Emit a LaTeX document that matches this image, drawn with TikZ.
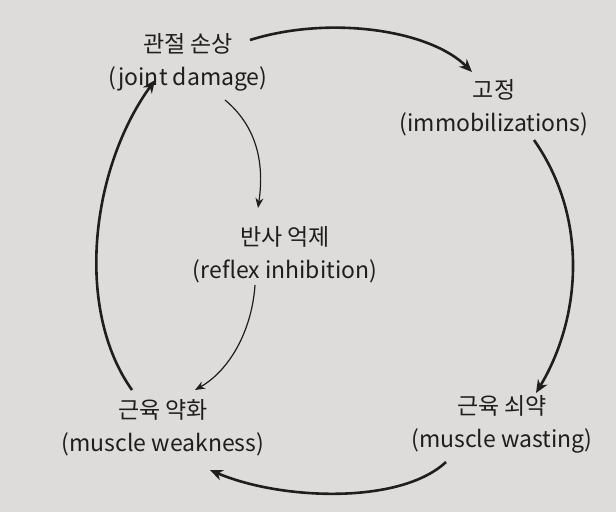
\documentclass[tikz,border=0pt]{standalone}
\usepackage{fontspec}
\setmainfont{Noto Sans CJK KR}
\usetikzlibrary{arrows.meta}
\definecolor{paper}{RGB}{222,220,218}
\definecolor{ink}{RGB}{30,30,30}
\begin{document}
\begin{tikzpicture}[x=1pt,y=-1pt,
  lab/.style={align=center,text=ink,font=\fontsize{23}{33}\selectfont},
  bigarr/.style={line width=2.6pt,draw=ink,-{Stealth[length=13pt,width=11pt]}},
  thinarr/.style={line width=1.2pt,draw=ink,-{Stealth[length=10pt,width=8pt]}}]
\fill[paper] (0,0) rectangle (616,512);
\useasboundingbox (0,0) rectangle (616,512);
\node[lab] (jd) at (188,62) {관절 손상\\(joint damage)};
\node[lab] (im) at (494,108) {고정\\(immobilizations)};
\node[lab] (rf) at (285,255) {반사 억제\\(reflex inhibition)};
\node[lab] (mw) at (163,428) {근육 약화\\(muscle weakness)};
\node[lab] (ms) at (502,424) {근육 쇠약\\(muscle wasting)};
\coordinate (a1) at (250,40); \coordinate (a2) at (472,72);
\draw[bigarr] (a1) .. controls (330,15) and (430,30) .. (a2);
\coordinate (b1) at (534,140); \coordinate (b2) at (536,393);
\draw[bigarr] (b1) .. controls (590,220) and (580,320) .. (b2);
\coordinate (c1) at (446,462); \coordinate (c2) at (210,470);
\draw[bigarr] (c1) .. controls (400,505) and (280,500) .. (c2);
\coordinate (d1) at (132,390); \coordinate (d2) at (155,80);
\draw[bigarr] (d1) .. controls (75,310) and (90,170) .. (d2);
\coordinate (e1) at (225,100); \coordinate (e2) at (258,208);
\draw[thinarr] (e1) .. controls (255,125) and (265,160) .. (e2);
\coordinate (f1) at (255,285); \coordinate (f2) at (195,390);
\draw[thinarr] (f1) .. controls (252,330) and (230,370) .. (f2);
\end{tikzpicture}
\end{document}
